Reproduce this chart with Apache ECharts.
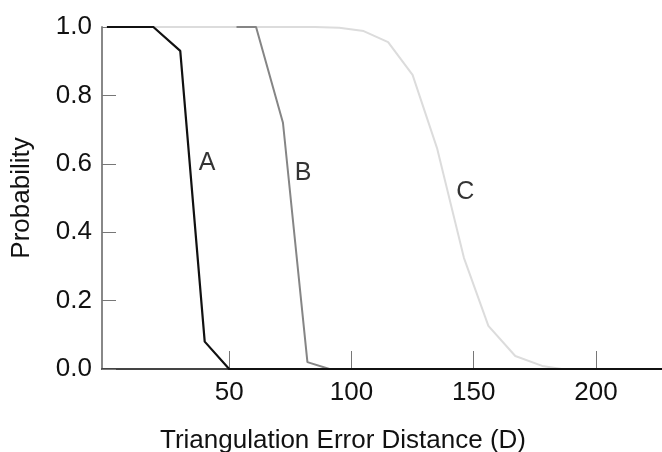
<!DOCTYPE html>
<html>
<head>
<meta charset="utf-8">
<script src="https://cdn.jsdelivr.net/npm/echarts@6/dist/echarts.min.js"></script>
<style>
  html, body { margin: 0; padding: 0; background: #fff; }
  #chart { width: 662px; height: 452px; }
</style>
</head>
<body>
<div id="chart"></div>
<script>
// curve A (black)
const xA = [0, 19, 30, 40, 50, 227];
const yA = [1, 1, 0.93, 0.08, 0, 0];
// curve B (mid grey)
const xB = [53, 61, 72, 82, 91, 227];
const yB = [1, 1, 0.72, 0.02, 0, 0];
// curve C (light grey)
const xC = [0, 85, 95, 105, 115, 125, 135, 146, 156, 167, 178, 186, 227];
const yC = [1, 1, 0.998, 0.988, 0.956, 0.86, 0.646, 0.325, 0.126, 0.038, 0.009, 0, 0];

// curve letters
const labelText = ["A", "B", "C"];
const labelX = [41, 80.2, 146.6];
const labelY = [0.602, 0.573, 0.518];

const xTicks = [50, 100, 150, 200];
const xMin = -2;
const xMax = 227;

const pairs = (xs, ys) => xs.map((x, i) => [x, ys[i]]);
const font = "Liberation Sans, Arial, Helvetica, sans-serif";

const chart = echarts.init(document.getElementById("chart"));

chart.setOption({
  animation: false,
  backgroundColor: "#fff",
  grid: {
    left: 102,
    right: 0,
    top: 27,
    bottom: 83,
    containLabel: false,
    outerBoundsMode: "none",
  },
  xAxis: {
    type: "value",
    min: xMin,
    max: xMax,
    name: "Triangulation Error Distance (D)",
    nameLocation: "middle",
    nameGap: 59,
    nameTextStyle: {
      fontSize: 26,
      color: "#111",
      fontFamily: font,
      padding: [0, 78, 0, 0],
    },
    axisLine: { onZero: false, lineStyle: { color: "#444", width: 2 } },
    axisTick: {
      show: true,
      inside: true,
      length: 18,
      customValues: xTicks,
      lineStyle: { color: "#777", width: 1 },
    },
    axisLabel: {
      customValues: xTicks,
      fontSize: 26,
      color: "#111",
      fontFamily: font,
      margin: 11,
    },
    splitLine: { show: false },
  },
  yAxis: {
    type: "value",
    min: 0,
    max: 1,
    interval: 0.2,
    name: "Probability",
    nameLocation: "middle",
    nameGap: 67,
    nameTextStyle: { fontSize: 26, color: "#111", fontFamily: font },
    axisLine: { show: true, onZero: false, lineStyle: { color: "#888", width: 2 } },
    axisTick: {
      show: true,
      inside: true,
      length: 14,
      lineStyle: { color: "#777", width: 1 },
    },
    axisLabel: {
      fontSize: 26,
      color: "#111",
      fontFamily: font,
      margin: 10,
      formatter: (v) => v.toFixed(1),
    },
    splitLine: { show: false },
  },
  series: [
    {
      name: "C",
      type: "line",
      data: pairs(xC, yC),
      showSymbol: false,
      lineStyle: { color: "#dcdcdc", width: 2 },
    },
    {
      name: "B",
      type: "line",
      data: pairs(xB, yB),
      showSymbol: false,
      lineStyle: { color: "#858585", width: 2 },
    },
    {
      name: "A",
      type: "line",
      data: pairs(xA, yA),
      showSymbol: false,
      lineStyle: { color: "#111", width: 2.2 },
    },
    {
      name: "labels",
      type: "scatter",
      symbolSize: 0,
      itemStyle: { color: "#fff" },
      data: labelText.map((t, i) => ({ name: t, value: [labelX[i], labelY[i]] })),
      label: {
        show: true,
        position: "inside",
        formatter: (p) => p.name,
        fontSize: 25,
        color: "#000",
        textBorderWidth: 0,
        fontFamily: font,
      },
    },
  ],
});
</script>
</body>
</html>
